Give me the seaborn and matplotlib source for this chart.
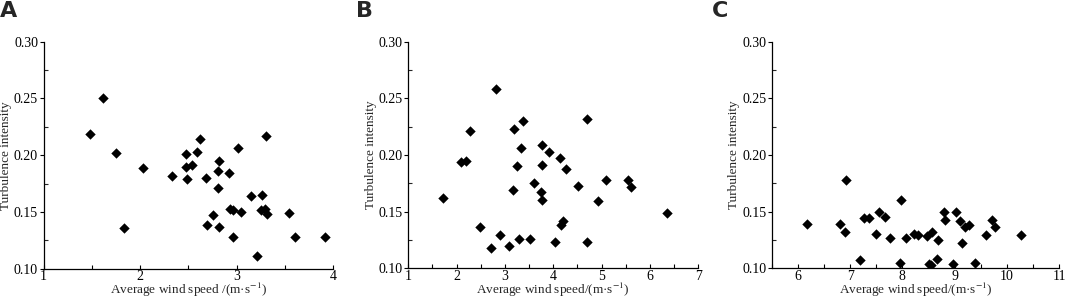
import numpy as np
import pandas as pd
import matplotlib
matplotlib.use("Agg")
import matplotlib.pyplot as plt
import seaborn as sns
from matplotlib.ticker import MultipleLocator

# Panel A data
a_speed = [1.48, 1.61, 1.75, 1.83, 2.03, 2.33, 2.48, 2.48, 2.49, 2.54, 2.59, 2.62,
           2.68, 2.69, 2.75, 2.82, 2.81, 2.81, 2.82, 2.92, 2.93, 2.96, 2.96, 3.01,
           3.04, 3.15, 3.21, 3.26, 3.25, 3.29, 3.30, 3.31, 3.54, 3.60, 3.92]
a_ti = [0.219, 0.250, 0.202, 0.136, 0.189, 0.182, 0.201, 0.190, 0.179, 0.191, 0.203, 0.214,
        0.180, 0.139, 0.147, 0.195, 0.186, 0.171, 0.137, 0.184, 0.153, 0.152, 0.128, 0.206,
        0.150, 0.164, 0.111, 0.165, 0.152, 0.153, 0.217, 0.148, 0.149, 0.128, 0.128]

# Panel B data
b_speed = [1.71, 2.27, 2.10, 2.19, 2.48, 2.72, 2.81, 2.90, 3.08, 3.16, 3.18, 3.25,
           3.28, 3.33, 3.37, 3.52, 3.59, 3.74, 3.76, 3.76, 3.77, 3.91, 4.03, 4.14,
           4.16, 4.19, 4.26, 4.52, 4.70, 4.69, 4.92, 5.10, 5.55, 5.61, 6.36]
b_ti = [0.162, 0.221, 0.194, 0.195, 0.136, 0.118, 0.258, 0.129, 0.120, 0.169, 0.223, 0.190,
        0.126, 0.206, 0.230, 0.126, 0.175, 0.167, 0.209, 0.191, 0.160, 0.203, 0.123, 0.197,
        0.138, 0.142, 0.188, 0.173, 0.232, 0.123, 0.159, 0.178, 0.178, 0.172, 0.149]

# Panel C data
c_speed = [6.17, 6.80, 6.93, 6.90, 7.18, 7.27, 7.37, 7.50, 7.55, 7.67, 7.77, 7.95,
           7.98, 8.07, 8.23, 8.29, 8.47, 8.51, 8.54, 8.56, 8.66, 8.68, 8.79, 8.82,
           8.96, 9.03, 9.10, 9.14, 9.19, 9.28, 9.38, 9.59, 9.71, 9.78, 10.27]
c_ti = [0.139, 0.139, 0.178, 0.132, 0.107, 0.144, 0.144, 0.130, 0.150, 0.145, 0.127, 0.105,
        0.160, 0.127, 0.130, 0.129, 0.128, 0.104, 0.103, 0.132, 0.108, 0.125, 0.150, 0.143,
        0.104, 0.150, 0.142, 0.122, 0.136, 0.138, 0.105, 0.129, 0.143, 0.136, 0.129]

panel_labels = ["A", "B", "C"]
x_labels = ["Average wind speed /(m·s$^{-1}$)",
            "Average wind speed/(m·s$^{-1}$)",
            "Average wind speed/(m·s$^{-1}$)"]
x_limits = [(1, 4), (1, 7), (5.5, 11)]
y_limits = (0.10, 0.30)

sns.set_style("ticks")
plt.rcParams['font.family'] = ['Liberation Serif', 'DejaVu Serif']
plt.rcParams['mathtext.fontset'] = 'stix'

fig = plt.figure(figsize=(10.65, 2.99), dpi=100)
rects = [
    [0.0410, 0.1010, 0.2718, 0.7595],
    [0.3834, 0.1030, 0.2723, 0.7575],
    [0.7246, 0.1030, 0.2700, 0.7575],
]
label_x = [0.0, 0.334, 0.668]
datasets = [(a_speed, a_ti), (b_speed, b_ti), (c_speed, c_ti)]

for i, (rect, (xs, ys)) in enumerate(zip(rects, datasets)):
    ax = fig.add_axes(rect)
    df = pd.DataFrame({"speed": xs, "ti": ys})
    sns.scatterplot(data=df, x="speed", y="ti", ax=ax, marker="D", s=28,
                    color="black", edgecolor="black", linewidth=0)
    ax.set_xlim(*x_limits[i])
    ax.set_ylim(*y_limits)
    ax.xaxis.set_major_locator(MultipleLocator(1))
    ax.xaxis.set_minor_locator(MultipleLocator(0.5))
    ax.yaxis.set_major_locator(MultipleLocator(0.05))
    ax.yaxis.set_minor_locator(MultipleLocator(0.025))
    ax.yaxis.set_major_formatter(matplotlib.ticker.FormatStrFormatter('%.2f'))
    sns.despine(ax=ax)
    for sp in ("left", "bottom"):
        ax.spines[sp].set_linewidth(0.9)
        ax.spines[sp].set_color("black")
    ax.tick_params(axis="x", which="both", direction="in", length=3, width=0.8,
                   labelsize=10, pad=1, colors="black")
    ax.tick_params(axis="y", which="major", direction="out", length=3, width=0.8,
                   labelsize=10, pad=1, colors="black")
    ax.tick_params(axis="y", which="minor", direction="in", length=3, width=0.8)
    ax.set_xlabel(x_labels[i], fontsize=9.5, labelpad=-1.5)
    ax.set_ylabel("Turbulence intensity", fontsize=9.5, labelpad=1.5)
    fig.text(label_x[i], 0.995, panel_labels[i],
             fontsize=16, fontweight="bold", ha="left", va="top",
             family=["Liberation Sans Narrow", "DejaVu Sans"])

fig.savefig("out.png", dpi=100)
